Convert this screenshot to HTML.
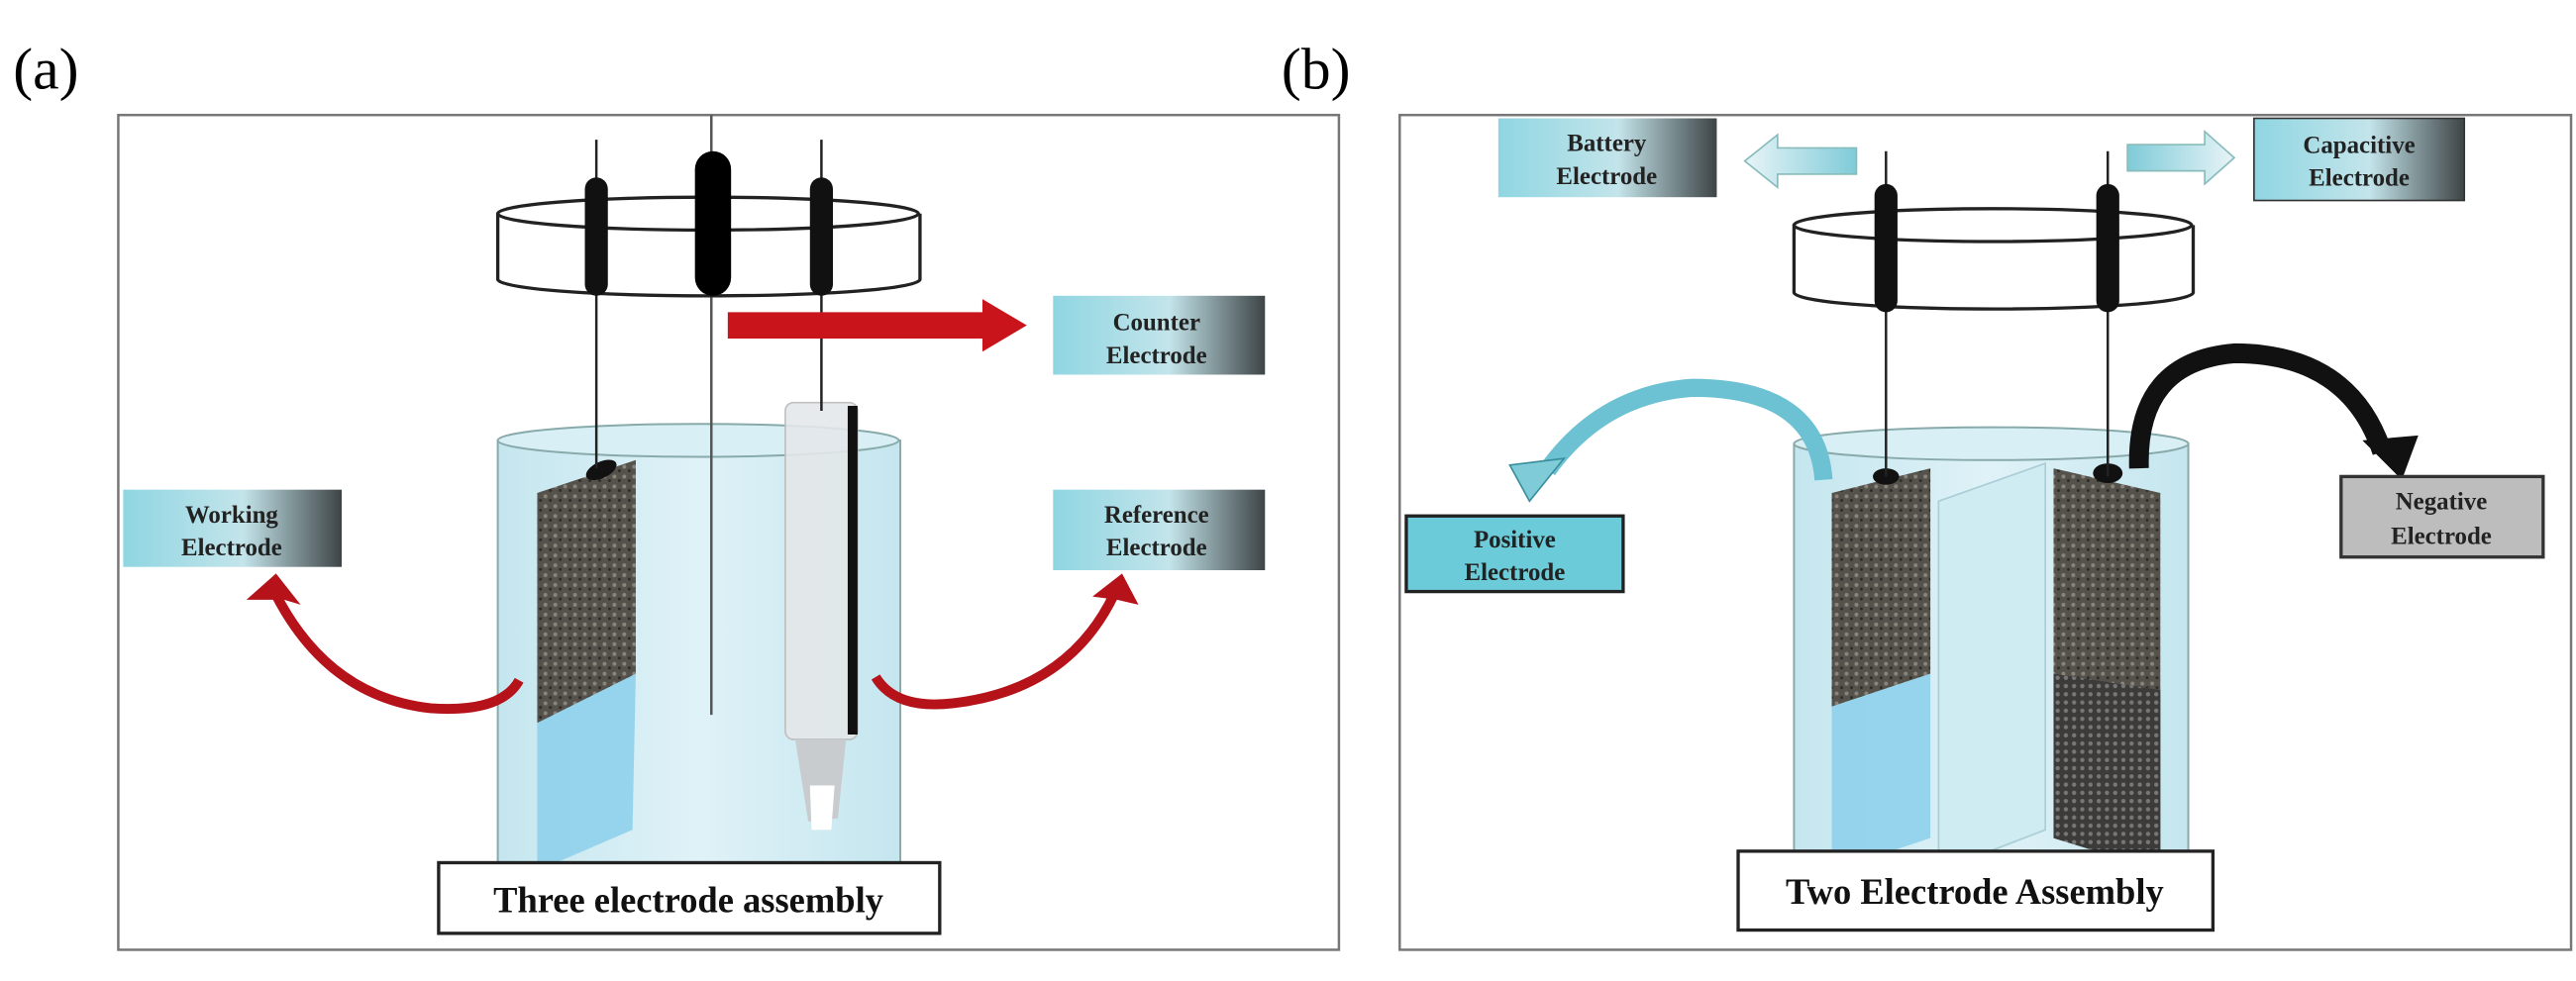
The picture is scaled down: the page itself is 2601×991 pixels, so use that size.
<!DOCTYPE html>
<html><head><meta charset="utf-8"><style>
html,body{margin:0;padding:0;background:#fff;}
svg{display:block;}
text{font-family:"Liberation Serif",serif;}
</style></head><body>
<svg width="2601" height="991" viewBox="0 0 1568 597" preserveAspectRatio="none" xmlns="http://www.w3.org/2000/svg">
<defs>
<linearGradient id="lab" x1="0" x2="1" y1="0" y2="0">
<stop offset="0" stop-color="#8fd6e2"/><stop offset="0.55" stop-color="#c3e4ea"/><stop offset="1" stop-color="#3e4446"/>
</linearGradient>
<linearGradient id="water" x1="0" x2="1">
<stop offset="0" stop-color="#c5e6ef"/><stop offset="0.5" stop-color="#dff2f7"/><stop offset="1" stop-color="#c5e6ef"/>
</linearGradient>
<linearGradient id="arrL" x1="0" x2="1"><stop offset="0" stop-color="#e8f4f7"/><stop offset="1" stop-color="#7fcbd8"/></linearGradient>
<linearGradient id="arrR" x1="0" x2="1"><stop offset="0" stop-color="#7fcbd8"/><stop offset="1" stop-color="#e8f4f7"/></linearGradient>
<pattern id="dots" width="6" height="6" patternUnits="userSpaceOnUse">
<rect width="6" height="6" fill="#55524c"/><circle cx="2" cy="2" r="1.2" fill="#8a857c"/><circle cx="5" cy="4.5" r="0.9" fill="#2e2c29"/>
</pattern>
<pattern id="mesh" width="5" height="5" patternUnits="userSpaceOnUse">
<rect width="5" height="5" fill="#3c3b39"/><circle cx="2.5" cy="2.5" r="1.3" fill="#777"/>
</pattern>
</defs>

<text x="8" y="54" font-size="36">(a)</text>
<text x="780" y="54" font-size="36">(b)</text>

<!-- Panel a frame -->
<rect x="72" y="70" width="743" height="508" fill="#fff" stroke="#777" stroke-width="1.5"/>

<!-- beaker a -->
<path d="M303 268 L303 535 A122 10 0 0 0 548 535 L548 268 Z" fill="url(#water)" stroke="#8aa" stroke-width="1.2"/>
<ellipse cx="425" cy="268" rx="122" ry="10" fill="#d8eff5" stroke="#8aa" stroke-width="1.2"/>
<polygon points="327,300 387,280 387,410 327,440" fill="url(#dots)"/>
<polygon points="327,440 387,410 385,505 327,530" fill="#8fd0ec" opacity="0.9"/>
<ellipse cx="366" cy="286" rx="10" ry="5" fill="#111" transform="rotate(-25 366 286)"/>
<rect x="478" y="245" width="44" height="205" rx="5" fill="#e4e8ea" opacity="0.9" stroke="#bbb"/>
<rect x="516" y="247" width="6" height="200" fill="#111"/>
<polygon points="484,450 515,450 510,498 492,500" fill="#c8cccf"/>
<polygon points="493,478 508,478 506,505 494,505" fill="#fff"/>
<line x1="363" y1="85" x2="363" y2="285" stroke="#222" stroke-width="1.5"/>
<line x1="433" y1="70" x2="433" y2="435" stroke="#555" stroke-width="1.5"/>
<line x1="500" y1="85" x2="500" y2="250" stroke="#222" stroke-width="1.5"/>
<path d="M303 130 L303 170 A128 10 0 0 0 560 170 L560 130" fill="#fff" stroke="#222" stroke-width="2"/>
<ellipse cx="431" cy="130" rx="128" ry="10" fill="none" stroke="#222" stroke-width="2"/>
<rect x="356" y="108" width="14" height="72" rx="7" fill="#111"/>
<rect x="423" y="92" width="22" height="88" rx="11" fill="#000"/>
<rect x="493" y="108" width="14" height="72" rx="7" fill="#111"/>
<polygon points="443,190 598,190 598,182 625,198 598,214 598,206 443,206" fill="#c8141a"/>
<!-- red curves -->
<path d="M316 414 Q305 434 262 431 Q200 424 168 362" fill="none" stroke="#b5121a" stroke-width="6"/>
<polygon points="150,365 168,349 183,368 173,365" fill="#b5121a"/>
<path d="M533 412 Q545 432 580 428 Q650 420 678 362" fill="none" stroke="#b5121a" stroke-width="6"/>
<polygon points="665,363 683,349 693,368 680,365" fill="#b5121a"/>
<!-- labels a -->
<rect x="641" y="180" width="129" height="48" fill="url(#lab)"/>
<text x="704" y="201" font-size="15" font-weight="bold" text-anchor="middle" fill="#222">Counter</text>
<text x="704" y="221" font-size="15" font-weight="bold" text-anchor="middle" fill="#222">Electrode</text>
<rect x="75" y="298" width="133" height="47" fill="url(#lab)"/>
<text x="141" y="318" font-size="15" font-weight="bold" text-anchor="middle" fill="#222">Working</text>
<text x="141" y="338" font-size="15" font-weight="bold" text-anchor="middle" fill="#222">Electrode</text>
<rect x="641" y="298" width="129" height="49" fill="url(#lab)"/>
<text x="704" y="318" font-size="15" font-weight="bold" text-anchor="middle" fill="#222">Reference</text>
<text x="704" y="338" font-size="15" font-weight="bold" text-anchor="middle" fill="#222">Electrode</text>
<rect x="267" y="525" width="305" height="43" fill="#fff" stroke="#222" stroke-width="2"/>
<text x="419" y="555" font-size="22" font-weight="bold" text-anchor="middle" fill="#111">Three electrode assembly</text>

<!-- Panel b frame -->
<rect x="852" y="70" width="713" height="508" fill="#fff" stroke="#777" stroke-width="1.5"/>
<path d="M1092 270 L1092 535 A120 10 0 0 0 1332 535 L1332 270 Z" fill="url(#water)" stroke="#8aa" stroke-width="1.2"/>
<ellipse cx="1212" cy="270" rx="120" ry="10" fill="#d8eff5" stroke="#8aa" stroke-width="1.2"/>
<polygon points="1115,300 1175,285 1175,410 1115,430" fill="url(#dots)"/>
<polygon points="1115,430 1175,410 1175,510 1115,530" fill="#8fd0ec" opacity="0.9"/>
<polygon points="1180,305 1245,282 1245,505 1180,530" fill="#d0ecf3" stroke="#aacdd6"/>
<polygon points="1250,285 1315,300 1315,530 1250,510" fill="url(#dots)"/>
<polygon points="1250,410 1315,420 1315,530 1250,510" fill="url(#mesh)"/>
<ellipse cx="1148" cy="290" rx="8" ry="5" fill="#111"/>
<ellipse cx="1283" cy="288" rx="9" ry="6" fill="#111"/>
<line x1="1148" y1="92" x2="1148" y2="290" stroke="#222" stroke-width="1.5"/>
<line x1="1283" y1="92" x2="1283" y2="290" stroke="#222" stroke-width="1.5"/>
<path d="M1092 137 L1092 178 A121 10 0 0 0 1335 178 L1335 137" fill="#fff" stroke="#222" stroke-width="2"/>
<ellipse cx="1213" cy="137" rx="121" ry="10" fill="none" stroke="#222" stroke-width="2"/>
<rect x="1141" y="112" width="14" height="78" rx="7" fill="#111"/>
<rect x="1276" y="112" width="14" height="78" rx="7" fill="#111"/>
<polygon points="1130,90 1082,90 1082,82 1062,98 1082,114 1082,106 1130,106" fill="url(#arrL)" stroke="#8bb" stroke-width="1"/>
<polygon points="1295,88 1342,88 1342,80 1360,96 1342,112 1342,104 1295,104" fill="url(#arrR)" stroke="#8bb" stroke-width="1"/>
<!-- cyan curve -->
<path d="M1110 292 Q1106 236 1030 236 Q975 240 942 286" fill="none" stroke="#6cc2d3" stroke-width="11"/>
<polygon points="919,283 952,279 931,305" fill="#7fcbd8" stroke="#3a8f9c" stroke-width="1"/>
<!-- black curve -->
<path d="M1302 285 Q1300 220 1360 215 Q1430 215 1450 275" fill="none" stroke="#111" stroke-width="12"/>
<polygon points="1438,268 1472,265 1462,292" fill="#111"/>
<!-- labels b -->
<rect x="912" y="72" width="133" height="48" fill="url(#lab)"/>
<text x="978" y="92" font-size="15" font-weight="bold" text-anchor="middle" fill="#222">Battery</text>
<text x="978" y="112" font-size="15" font-weight="bold" text-anchor="middle" fill="#222">Electrode</text>
<rect x="1372" y="72" width="128" height="50" fill="url(#lab)" stroke="#333"/>
<text x="1436" y="93" font-size="15" font-weight="bold" text-anchor="middle" fill="#222">Capacitive</text>
<text x="1436" y="113" font-size="15" font-weight="bold" text-anchor="middle" fill="#222">Electrode</text>
<rect x="856" y="314" width="132" height="46" fill="#6ccbd8" stroke="#222" stroke-width="2"/>
<text x="922" y="333" font-size="15" font-weight="bold" text-anchor="middle" fill="#222">Positive</text>
<text x="922" y="353" font-size="15" font-weight="bold" text-anchor="middle" fill="#222">Electrode</text>
<rect x="1425" y="290" width="123" height="49" fill="#bdbdbd" stroke="#333" stroke-width="2"/>
<text x="1486" y="310" font-size="15" font-weight="bold" text-anchor="middle" fill="#222">Negative</text>
<text x="1486" y="331" font-size="15" font-weight="bold" text-anchor="middle" fill="#222">Electrode</text>
<rect x="1058" y="518" width="289" height="48" fill="#fff" stroke="#222" stroke-width="2"/>
<text x="1202" y="550" font-size="22" font-weight="bold" text-anchor="middle" fill="#111">Two Electrode Assembly</text>
</svg>
</body></html>
